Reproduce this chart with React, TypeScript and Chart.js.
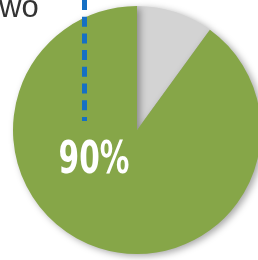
import React, { useEffect, useRef } from "react";
import { Chart, registerables } from "chart.js";

Chart.register(...registerables);

const categories = ["Other", "Share"];
const values = [10, 90];
const colors = ["#d3d3d3", "#86a648"];
const centerLabel = "90%";
const topText = "wo";

const decorPlugin = {
  id: "decor",
  beforeDatasetsDraw(chart: any) {
    const ctx = chart.ctx;
    ctx.save();
    ctx.shadowColor = "rgba(0,0,0,0.35)";
    ctx.shadowBlur = 7;
    ctx.shadowOffsetX = 3;
    ctx.shadowOffsetY = 2;
  },
  afterDatasetsDraw(chart: any) {
    const ctx = chart.ctx;
    ctx.restore();
    const arc = chart.getDatasetMeta(0).data[1];
    const cx = arc.x;
    const cy = arc.y;
    const r = arc.outerRadius;
    // label
    ctx.save();
    ctx.fillStyle = "#ffffff";
    ctx.textAlign = "center";
    ctx.textBaseline = "alphabetic";
    ctx.font = "bold 45px 'DejaVu Sans Condensed', 'DejaVu Sans'";
    const lx = cx - 0.347 * r;
    const ly = cy + 0.345 * r;
    ctx.translate(lx, ly);
    ctx.scale(0.73, 1);
    ctx.fillText(centerLabel, 0, 0);
    ctx.restore();
    // dotted leader line
    ctx.save();
    ctx.strokeStyle = "#1570c4";
    ctx.lineWidth = 5;
    ctx.setLineDash([10, 6.7]);
    ctx.beginPath();
    ctx.moveTo(84.5, 0);
    ctx.lineTo(84.5, 121);
    ctx.stroke();
    ctx.restore();
    // top text
    ctx.save();
    ctx.fillStyle = "#333333";
    ctx.font = "normal 400 31px 'Liberation Sans', Arial, sans-serif";
    ctx.textAlign = "left";
    ctx.textBaseline = "alphabetic";
    ctx.fillText(topText, -1, 17);
    ctx.restore();
  },
};

export default function App() {
  const ref = useRef<HTMLCanvasElement>(null);
  useEffect(() => {
    if (!ref.current) return;
    const chart = new Chart(ref.current, {
      type: "pie",
      data: {
        labels: categories,
        datasets: [
          {
            data: values,
            backgroundColor: colors,
            borderWidth: 0,
          },
        ],
      },
      options: {
        animation: false,
        responsive: false,
        maintainAspectRatio: false,
        layout: { padding: { top: 6, bottom: 6, left: 0, right: 0 } },
        plugins: {
          legend: { display: false },
          tooltip: { enabled: false },
        },
      },
      plugins: [decorPlugin],
    });
    return () => chart.destroy();
  }, []);
  return (
    <div
      style={{
        position: "fixed",
        left: 0,
        top: 0,
        width: 258,
        height: 260,
        overflow: "hidden",
        background: "#ffffff",
      }}
    >
      <canvas ref={ref} width={274} height={260} style={{ width: 274, height: 260 }} />
    </div>
  );
}
